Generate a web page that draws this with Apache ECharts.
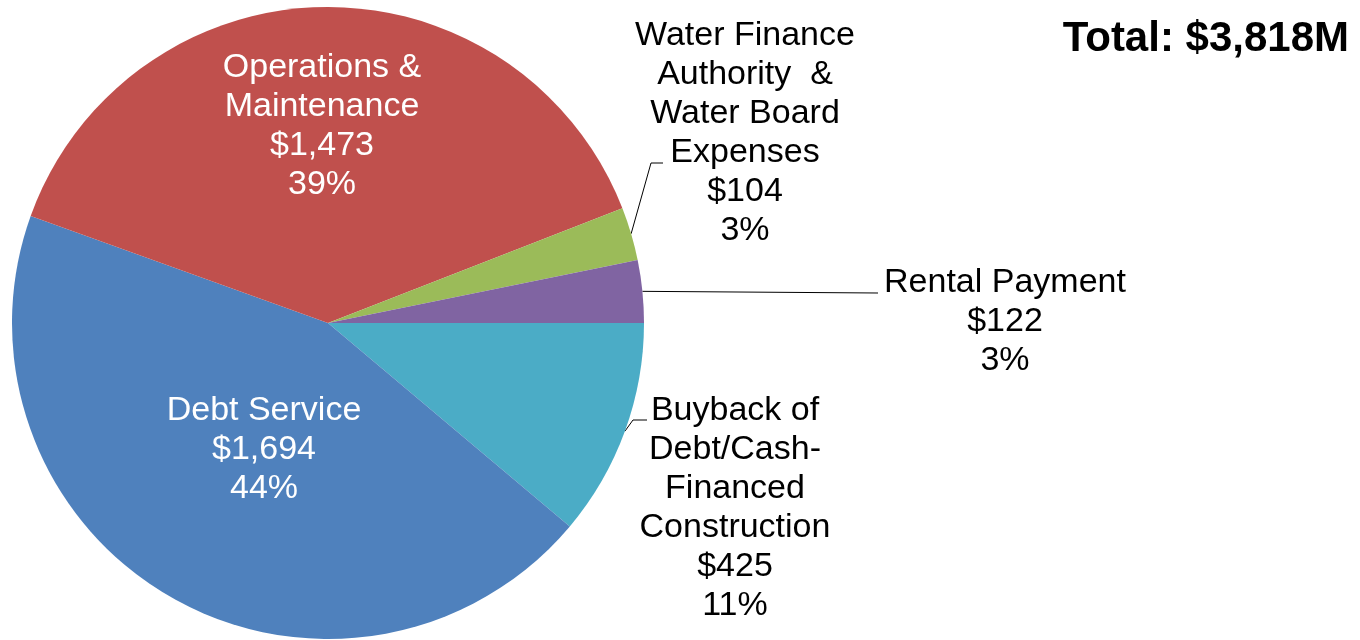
<!DOCTYPE html>
<html>
<head>
<meta charset="utf-8">
<title>Water budget</title>
<script src="https://cdn.jsdelivr.net/npm/echarts@6/dist/echarts.min.js"></script>
<style>
  html, body { margin: 0; padding: 0; background: #fff; }
  #main { width: 1360px; height: 640px; }
</style>
</head>
<body>
<div id="main"></div>
<script>
// slices, clockwise starting at 3 o'clock
var categories = [
    'Buyback of\nDebt/Cash-\nFinanced\nConstruction',
    'Debt Service',
    'Operations &\nMaintenance',
    'Water Finance\nAuthority  &\nWater Board\nExpenses',
    'Rental Payment'
];
var amounts = [425, 1694, 1473, 104, 122]; // $M
var sliceColors = ['#4BACC6', '#4F81BD', '#C0504D', '#9BBB59', '#8064A2'];
var insideLabels = [false, true, true, false, false];
var totalText = 'Total: $3,818M';

var FONT = "'Liberation Sans', Arial, sans-serif";

// where each label sits (centre of the text block) + leader line bends
var labelSpots = [
    { x: 735, y: 508, line: [[633, 420], [647, 420]] },
    { x: 264, y: 450 },
    { x: 322, y: 126 },
    { x: 745, y: 133, line: [[651, 163], [663, 163]] },
    { x: 1005, y: 322, line: [[878, 293]] }
];

var pieData = categories.map(function (name, i) {
    var item = { name: name, value: amounts[i], itemStyle: { color: sliceColors[i] } };
    if (insideLabels[i]) {
        item.label = { position: 'inside', color: '#fff' };
        item.labelLine = { show: false };
    }
    return item;
});

var myChart = echarts.init(document.getElementById('main'));
myChart.setOption({
    animation: false,
    title: {
        text: totalText,
        right: 6,
        top: 13,
        textStyle: { fontFamily: FONT, fontSize: 42, fontWeight: 'bold', color: '#000' }
    },
    series: [{
        type: 'pie',
        center: [328, 323],
        radius: 316,
        startAngle: 0,
        clockwise: true,
        avoidLabelOverlap: false,
        percentPrecision: 2,
        itemStyle: { borderWidth: 0 },
        emphasis: { disabled: true },
        label: {
            show: true,
            position: 'outside',
            color: '#000',
            fontFamily: FONT,
            fontSize: 34,
            lineHeight: 39,
            align: 'center',
            formatter: function (p) {
                return p.name + '\n$' + p.value.toLocaleString('en-US') + '\n' + Math.round(p.percent) + '%';
            }
        },
        labelLine: {
            show: true,
            length: 10,
            length2: 10,
            lineStyle: { color: '#000', width: 1 }
        },
        labelLayout: function (params) {
            var s = labelSpots[params.dataIndex];
            var out = { x: s.x, y: s.y, align: 'center', verticalAlign: 'middle' };
            if (s.line && params.labelLinePoints) {
                out.labelLinePoints = [params.labelLinePoints[0]].concat(s.line);
            }
            return out;
        },
        data: pieData
    }]
});
</script>
</body>
</html>
